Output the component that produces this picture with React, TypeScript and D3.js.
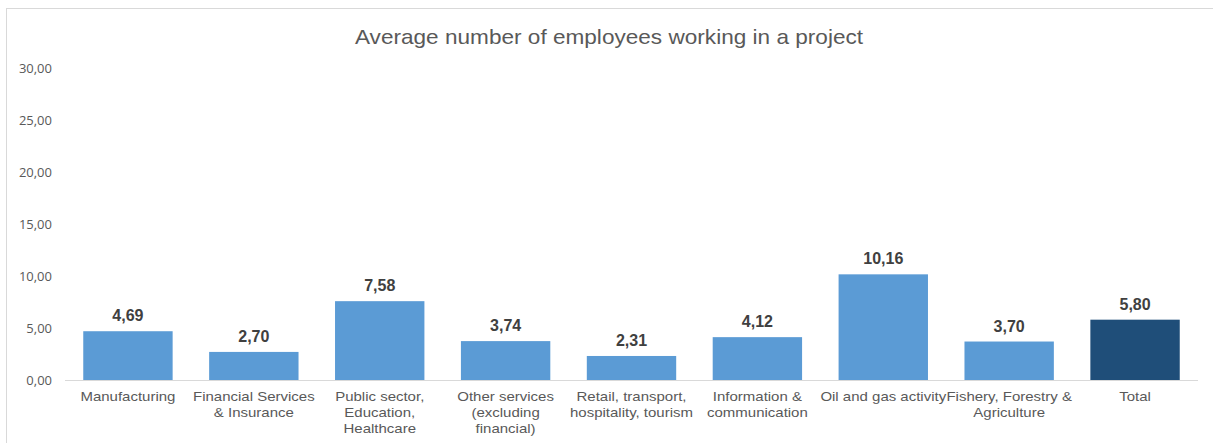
import React from "react";
import * as d3 from "d3";

const categories: string[] = [
  "Manufacturing",
  "Financial Services\n& Insurance",
  "Public sector,\nEducation,\nHealthcare",
  "Other services\n(excluding\nfinancial)",
  "Retail, transport,\nhospitality, tourism",
  "Information &\ncommunication",
  "Oil and gas activity",
  "Fishery, Forestry &\nAgriculture",
  "Total",
];
const values: number[] = [4.69, 2.7, 7.58, 3.74, 2.31, 4.12, 10.16, 3.7, 5.8];
const yTicks: number[] = [0, 5, 10, 15, 20, 25, 30];
const title = "Average number of employees working in a project";

const W = 1213;
const H = 443;

export default function App() {
  const x = d3
    .scaleBand<string>()
    .domain(categories)
    .range([65, 1198])
    .paddingInner(0.29)
    .paddingOuter(0.145);
  const y = d3.scaleLinear().domain([0, 30]).range([380, 68]);
  const fmt = (v: number) => v.toFixed(2).replace(".", ",");
  const font = "'Liberation Sans', Arial, sans-serif";

  return (
    <svg
      width={W}
      height={H}
      style={{ position: "absolute", left: 0, top: 0, background: "#fff" }}
      fontFamily={font}
    >
      <rect x={6.5} y={8.5} width={1230} height={460} fill="#fff" stroke="#d9d9d9" strokeWidth={1} />
      <text
        transform="translate(609,44) scale(1.13,1)"
        textAnchor="middle"
        fontSize={20}
        fill="#595959"
      >
        {title}
      </text>
      {yTicks.map((t) => (
        <text
          key={t}
          x={52}
          y={y(t)}
          dy="0.35em"
          textAnchor="end"
          fontSize={13}
          fill="#595959"
          fontFamily="'Open Sans', 'Liberation Sans', sans-serif"
        >
          {fmt(t)}
        </text>
      ))}
      {categories.map((c, i) => {
        const bx = x(c)!;
        const bw = x.bandwidth();
        const isTotal = i === categories.length - 1;
        return (
          <g key={c}>
            <rect
              x={bx}
              y={y(values[i])}
              width={bw}
              height={y(0) - y(values[i])}
              fill={isTotal ? "#1f4e79" : "#5b9bd5"}
            />
            <text
              x={bx + bw / 2}
              y={y(values[i]) - 10}
              textAnchor="middle"
              fontSize={16}
              fontWeight="bold"
              fill="#404040"
            >
              {fmt(values[i])}
            </text>
            {c.split("\n").map((line, j) => (
              <text
                key={j}
                transform={`translate(${bx + bw / 2},${401 + j * 16}) scale(1.2,1)`}
                textAnchor="middle"
                fontSize={12.5}
                fill="#595959"
              >
                {line}
              </text>
            ))}
          </g>
        );
      })}
      <line x1={65} x2={1198} y1={y(0) + 0.5} y2={y(0) + 0.5} stroke="#d9d9d9" strokeWidth={1} />
    </svg>
  );
}
